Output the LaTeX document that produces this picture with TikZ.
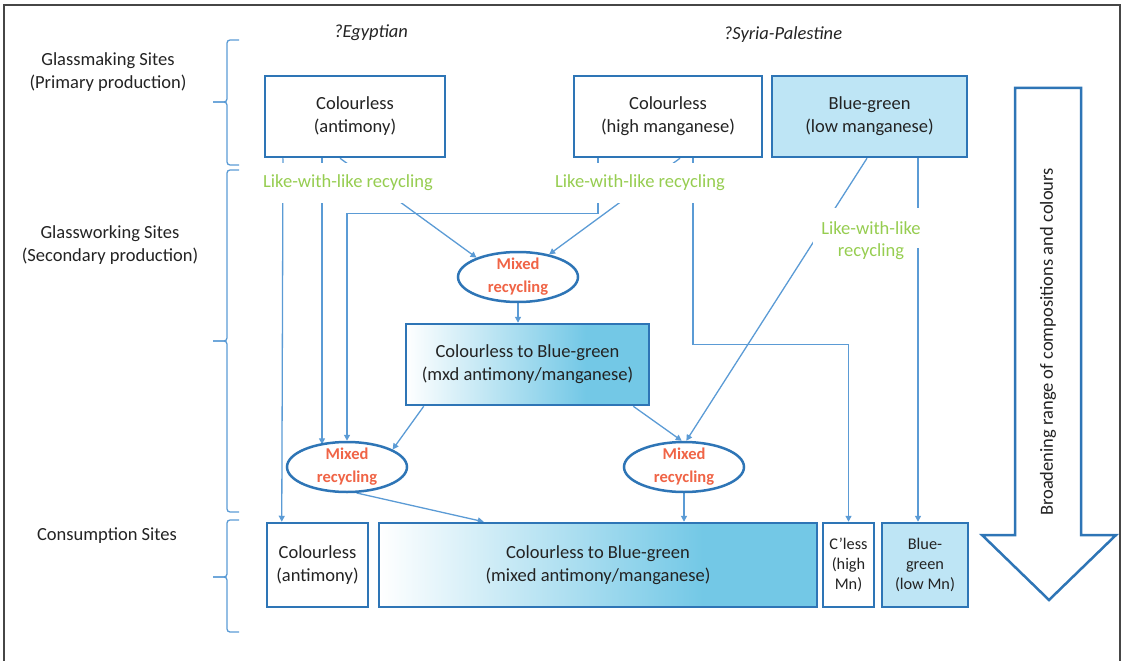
\documentclass[tikz,border=0pt]{standalone}
\usepackage{fontspec}
\setmainfont{Carlito}
\usetikzlibrary{arrows.meta,shapes.geometric,calc}
\pgfdeclarelayer{bg}
\pgfsetlayers{bg,main}
\definecolor{boxblue}{RGB}{46,117,182}
\definecolor{lineblue}{RGB}{91,155,213}
\definecolor{lightfill}{RGB}{190,229,245}
\definecolor{gradblue}{RGB}{115,200,230}
\definecolor{lwlgreen}{RGB}{150,205,80}
\definecolor{mixred}{RGB}{240,100,70}
\definecolor{txt}{RGB}{35,35,35}
\definecolor{framegray}{RGB}{70,70,70}
\pgfdeclarehorizontalshading{cbgrad}{100bp}{color(0bp)=(white); color(25bp)=(white); color(62bp)=(gradblue); color(100bp)=(gradblue)}
\begin{document}
\begin{tikzpicture}[x=1pt,y=-1pt,
  font=\fontsize{18.5}{23}\selectfont, text=txt,
  box/.style={draw=boxblue, line width=2.5pt, fill=white, inner sep=0pt, align=center, anchor=center},
  small/.style={font=\fontsize{16.3}{20}\selectfont},
  lwl/.style={text=lwlgreen, fill=white, inner sep=3pt, minimum height=40pt, align=center},
  mix/.style={ellipse, draw=boxblue, line width=2.5pt, fill=white, minimum width=120pt, minimum height=50pt, inner sep=0pt},
  mixlab/.style={align=center, text=mixred, font=\fontsize{16.5}{23}\selectfont\bfseries},
  conn/.style={draw=lineblue, line width=1.3pt},
  arr/.style={conn, -{Triangle[length=6pt,width=6pt]}},
  brace/.style={draw=lineblue, line width=1.3pt, rounded corners=3pt},
  lab/.style={align=center},
  hdr/.style={font=\fontsize{18.5}{23}\selectfont\itshape},
  bigarrow/.style={draw=boxblue, line width=2.5pt, fill=white},
  frame/.style={draw=framegray, line width=1.5pt}
]
\useasboundingbox (0,0) rectangle (1125,661);
\draw[frame] (4,5) rectangle (1120,664);

% row labels
\node[lab] (GM) at (108,72) {Glassmaking Sites\\(Primary production)};
\node[lab] (GW) at (110,245) {Glassworking Sites\\(Secondary production)};
\node[lab] (CS) at (107,536) {Consumption Sites};
\node[hdr] (EG) at (371,33) {?Egyptian};
\node[hdr] (SP) at (783,35) {?Syria-Palestine};

% braces
\draw[brace] (239,40) -- (227,40) -- (227,102) -- (213,102);
\draw[brace] (239,165) -- (227,165) -- (227,102) -- (213,102);
\draw[brace] (239,170) -- (227,170) -- (227,341) -- (213,341);
\draw[brace] (239,512) -- (227,512) -- (227,341) -- (213,341);
\draw[brace] (239,520) -- (227,520) -- (227,577) -- (213,577);
\draw[brace] (239,632) -- (227,632) -- (227,577) -- (213,577);

% primary boxes
\node[box, minimum width=180pt, minimum height=81pt] (A) at (355,116.5) {Colourless\\(antimony)};
\node[box, minimum width=188pt, minimum height=81pt] (B) at (668,116.5) {Colourless\\(high manganese)};
\node[box, fill=lightfill, minimum width=195pt, minimum height=81pt] (D) at (869.5,116.5) {Blue-green\\(low manganese)};

% like-with-like labels
\node[lwl] (L1) at (348,183) {Like-with-like recycling};
\node[lwl] (L2) at (640,183) {Like-with-like recycling};
\node[lwl, inner xsep=8pt] (L3) at (871,228) {Like-with-like};
\node[lwl, fill=none, minimum height=0pt] (L3b) at (871,252) {recycling};

% secondary
\node[mix, label={[mixlab]center:{Mixed\\recycling}}] (M1) at (518,277) {};
\node[box, shade, shading=cbgrad, minimum width=243pt, minimum height=81pt] (C) at (527.5,364.5) {Colourless to Blue-green\\(mxd antimony/manganese)};
\node[mix, label={[mixlab]center:{Mixed\\recycling}}] (M2) at (347,467) {};
\node[mix, label={[mixlab]center:{Mixed\\recycling}}] (M3) at (684,467) {};

% consumption boxes
\node[box, minimum width=101pt, minimum height=84pt] (E) at (317.5,565) {Colourless\\(antimony)};
\node[box, shade, shading=cbgrad, minimum width=438pt, minimum height=84pt] (F) at (598,565) {Colourless to Blue-green\\(mixed antimony/manganese)};
\node[box, small, minimum width=51pt, minimum height=84pt] (G) at (848.5,565) {C’less\\(high\\Mn)};
\node[box, small, fill=lightfill, minimum width=86pt, minimum height=84pt] (H) at (925,565) {Blue-\\green\\(low Mn)};

% big arrow
\draw[bigarrow] (1015,88) -- (1081,88) -- (1081,535) -- (1116,535) -- (1049,600) -- (982,535) -- (1015,535) -- cycle;
\node[rotate=90] (BR) at (1048,342) {Broadening range of compositions and colours};

% connectors
\begin{pgfonlayer}{bg}
\draw[arr] ($(A.south)+(-72,0)$) -- ($(E.north west)+(16,0)$);
\draw[arr] ($(A.south)+(-33,0)$) -- ($(M2.center)+(-25,-22.7)$);
\draw[arr] ($(A.south)+(-15,0)$) -- (M1.155);
\draw[arr] ($(B.south)+(12,0)$) -- (M1.36);
\draw[arr] ($(B.south)+(-70,0)$) -- ++(0,55) -| (M2.north);
\draw[arr] ($(B.south)+(25,0)$) -- ++(0,186) -| (G.north);
\draw[arr] ($(D.south)+(-2.5,0)$) -- (M3.85);
\draw[arr] ($(D.south)+(48.5,0)$) -- ($(H.north)+(-7,0)$);
\draw[arr] (M1.south) -- (M1.south |- C.north);
\draw[arr] ($(C.south west)+(19,0)$) -- (M2.21);
\draw[arr] ($(C.south east)+(-17,0)$) -- (M3.95);
\draw[arr] (M2.-70) -- ($(F.north west)+(106,0)$);
\draw[arr] (M3.south) -- (M3.south |- F.north);
\end{pgfonlayer}
\end{tikzpicture}
\end{document}
